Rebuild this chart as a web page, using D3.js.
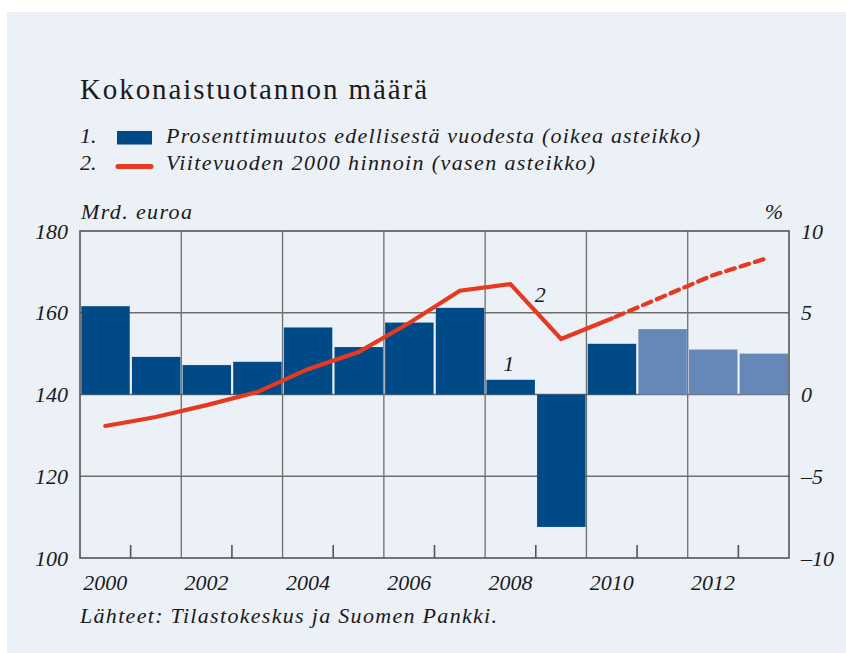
<!DOCTYPE html>
<html>
<head>
<meta charset="utf-8">
<script src="https://cdn.jsdelivr.net/npm/d3@7"></script>
<style>
  html, body { margin: 0; padding: 0; background: #fff; }
  svg { display: block; }
</style>
</head>
<body>
<svg id="chart"></svg>
<script>
// data
const years = [2000, 2001, 2002, 2003, 2004, 2005, 2006, 2007, 2008, 2009, 2010, 2011, 2012, 2013];
const growthPct = [5.4, 2.3, 1.8, 2.0, 4.1, 2.9, 4.4, 5.3, 0.9, -8.1, 3.1, 4.0, 2.75, 2.5];
const forecastFrom = 2011;
const gdpBn = [132.3, 134.5, 137.4, 140.6, 146.2, 150.4, 157.5, 165.4, 167.0, 153.6, 158.6, 163.9, 169.2, 173.1];
const leftTicks = [100, 120, 140, 160, 180];
const rightTicks = [-10, -5, 0, 5, 10];
const labelYears = [2000, 2002, 2004, 2006, 2008, 2010, 2012];

const W = 846, H = 653;
const m = { left: 80, right: 789, top: 231, bottom: 558 };
const serif = 'Liberation Serif';
const ink = '#1a1a1a';
const fs = 22;

const svg = d3.select('#chart')
    .attr('width', W)
    .attr('height', H);

// background panel
svg.append('rect')
    .attr('x', 7).attr('y', 12)
    .attr('width', W - 7).attr('height', H - 12)
    .attr('fill', '#ecf0f7');

// scales
const x = d3.scaleBand()
    .domain(years)
    .range([m.left, m.right])
    .padding(0);

const yL = d3.scaleLinear().domain([100, 180]).range([m.bottom, m.top]);
const yR = d3.scaleLinear().domain([-10, 10]).range([m.bottom, m.top]);

// grid
const grid = svg.append('g');
grid.selectAll('.hg')
    .data(rightTicks.slice(1, -1))
    .join('line')
    .attr('x1', m.left).attr('x2', m.right)
    .attr('y1', d => yR(d)).attr('y2', d => yR(d))
    .attr('stroke', '#6e6e6e').attr('stroke-width', 1.3);
grid.selectAll('.vg')
    .data(years.filter(y => y % 2 === 0 && y > 2000))
    .join('line')
    .attr('x1', d => x(d)).attr('x2', d => x(d))
    .attr('y1', m.top).attr('y2', m.bottom)
    .attr('stroke', '#6e6e6e').attr('stroke-width', 1.3);

// bars
svg.append('g').selectAll('rect')
    .data(years.map((y, i) => ({ year: y, v: growthPct[i] })))
    .join('rect')
    .attr('x', d => x(d.year) + 1.3)
    .attr('width', x.bandwidth() - 2.2)
    .attr('y', d => yR(Math.max(0, d.v)))
    .attr('height', d => Math.abs(yR(d.v) - yR(0)))
    .attr('fill', d => d.year >= forecastFrom ? '#6688b8' : '#004a87');

// frame + odd year ticks
svg.append('rect')
    .attr('x', m.left).attr('y', m.top)
    .attr('width', m.right - m.left).attr('height', m.bottom - m.top)
    .attr('fill', 'none').attr('stroke', '#555').attr('stroke-width', 1.6);
svg.append('g').selectAll('line')
    .data(years.filter(y => y % 2 === 1))
    .join('line')
    .attr('x1', d => x(d)).attr('x2', d => x(d))
    .attr('y1', m.bottom).attr('y2', m.bottom - 13)
    .attr('stroke', '#555').attr('stroke-width', 1.6);

// line: solid up to 2010, dashed afterwards
const pts = years.map((y, i) => ({ year: y, v: gdpBn[i] }));
const line = d3.line()
    .x(d => x(d.year) + x.bandwidth() / 2)
    .y(d => yL(d.v));
svg.append('path')
    .datum(pts.filter(d => d.year <= 2010))
    .attr('d', line)
    .attr('fill', 'none').attr('stroke', '#e53a1f').attr('stroke-width', 4.2)
    .attr('stroke-linecap', 'round').attr('stroke-linejoin', 'miter');
svg.append('path')
    .datum(pts.filter(d => d.year >= 2010))
    .attr('d', line)
    .attr('fill', 'none').attr('stroke', '#e53a1f').attr('stroke-width', 4.2)
    .attr('stroke-dasharray', '9,6').attr('stroke-dashoffset', -4)
    .attr('stroke-linecap', 'round');

// axes (labels only)
const axL = svg.append('g')
    .attr('transform', `translate(${m.left - 10},0)`)
    .call(d3.axisLeft(yL).tickValues(leftTicks).tickSize(0).tickPadding(2));
const axR = svg.append('g')
    .attr('transform', `translate(${m.right + 10},0)`)
    .call(d3.axisRight(yR).tickValues(rightTicks).tickSize(0).tickPadding(2)
        .tickFormat(d => d < 0 ? '\u2013' + Math.abs(d) : d));
const axB = svg.append('g')
    .attr('transform', `translate(0,${m.bottom})`)
    .call(d3.axisBottom(x).tickValues(labelYears).tickSize(0).tickPadding(16));
[axL, axR, axB].forEach(a => {
    a.select('.domain').remove();
    a.attr('font-family', serif).attr('font-size', fs);
    a.selectAll('text')
        .attr('font-style', 'italic')
        .attr('fill', ink);
});

// helper for plain texts
function label(tx, ty, str, opts = {}) {
    const t = svg.append('text')
        .attr('x', tx).attr('y', ty)
        .attr('font-family', serif)
        .attr('font-size', opts.size || fs)
        .attr('font-style', opts.italic === false ? 'normal' : 'italic')
        .attr('fill', ink)
        .text(str);
    if (opts.anchor) t.attr('text-anchor', opts.anchor);
    if (opts.len) t.attr('textLength', opts.len).attr('lengthAdjust', 'spacing');
    return t;
}

// title and legend
label(80, 99, 'Kokonaistuotannon määrä', { size: 29, italic: false, len: 347 });

label(80, 143, '1.');
label(80, 170, '2.');
svg.append('rect')
    .attr('x', 117).attr('y', 131).attr('width', 35).attr('height', 13.5)
    .attr('fill', '#004a87');
svg.append('line')
    .attr('x1', 118).attr('x2', 151).attr('y1', 166.5).attr('y2', 166.5)
    .attr('stroke', '#e53a1f').attr('stroke-width', 5).attr('stroke-linecap', 'round');
label(166, 143, 'Prosenttimuutos edellisestä vuodesta (oikea asteikko)', { len: 534 });
label(166, 170, 'Viitevuoden 2000 hinnoin (vasen asteikko)', { len: 429 });

label(81, 219, 'Mrd. euroa', { len: 111 });
label(783, 219, '%', { anchor: 'end' });

// series labels inside plot
label(x(2008) + 18, yR(0.9) - 9, '1');
label(x(2009) - 1, 302, '2');

// source
label(80, 623, 'Lähteet: Tilastokeskus ja Suomen Pankki.', { len: 417 });
</script>
</body>
</html>
